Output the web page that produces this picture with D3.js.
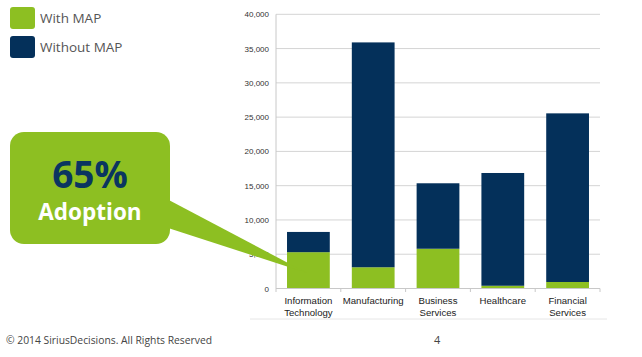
<!DOCTYPE html>
<html><head><meta charset="utf-8">
<script src="https://cdn.jsdelivr.net/npm/d3@7"></script>
<style>html,body{margin:0;padding:0;background:#fff;}svg{display:block;}</style>
</head><body>
<svg id="c" width="642" height="357"></svg>
<script>
const categories = [["Information","Technology"],["Manufacturing"],["Business","Services"],["Healthcare"],["Financial","Services"]];
const withMap = [5300, 3100, 5800, 400, 950];
const withoutMap = [2950, 32800, 9550, 16450, 24600];
const yTicks = [0,5000,10000,15000,20000,25000,30000,35000,40000];
const seriesNames = ["With MAP","Without MAP"];
const colors = ["#8dbf22","#04305a"];

const svg = d3.select("#c");
const m = {left:276, right:600, top:14.3, bottom:288.5};
const keys = categories.map(c=>c.join(" "));
const x = d3.scaleBand().domain(keys).range([m.left,m.right]).paddingInner(0.34).paddingOuter(0.17);
const y = d3.scaleLinear().domain([0,40000]).range([m.bottom,m.top]);

// gridlines
svg.append("g").selectAll("line").data(yTicks.slice(1)).join("line")
  .attr("x1",m.left).attr("x2",m.right).attr("y1",d=>y(d)).attr("y2",d=>y(d))
  .attr("stroke","#d4d4d4").attr("stroke-width",1);

// stacked bars
const rows = keys.map((k,i)=>({key:k, w:withMap[i], wo:withoutMap[i]}));
const stack = d3.stack().keys(["w","wo"])(rows);
svg.append("g").selectAll("g").data(stack).join("g").attr("fill",(d,i)=>colors[i])
  .selectAll("rect").data(d=>d).join("rect")
  .attr("x",d=>x(d.data.key)).attr("width",x.bandwidth())
  .attr("y",d=>y(d[1])).attr("height",d=>y(d[0])-y(d[1]));

// y axis
const ya = svg.append("g").attr("transform",`translate(${m.left},0)`)
  .call(d3.axisLeft(y).tickValues(yTicks).tickSize(0).tickPadding(7).tickFormat(d3.format(",")));
ya.select(".domain").attr("stroke","#c8c8c8").attr("d",`M0,${m.top}V${m.bottom+3.5}`);
ya.selectAll("text").attr("font-family","Liberation Sans, Arial, sans-serif").attr("font-size",8).attr("fill","#333");

// x axis
const xa = svg.append("g").attr("transform",`translate(0,${m.bottom})`);
xa.append("line").attr("x1",m.left).attr("x2",m.right).attr("stroke","#c8c8c8");
xa.selectAll(".tk").data(d3.range(1,keys.length+1)).join("line")
  .attr("x1",i=>m.left+i*(m.right-m.left)/keys.length).attr("x2",i=>m.left+i*(m.right-m.left)/keys.length)
  .attr("y1",0).attr("y2",3.5).attr("stroke","#c8c8c8");
xa.selectAll("text.cat").data(categories).join("text").attr("class","cat")
  .attr("font-family","Liberation Sans, Arial, sans-serif").attr("font-size",9.6).attr("fill","#222")
  .attr("text-anchor","middle")
  .each(function(d,i){
    const t=d3.select(this);
    d.forEach((line,j)=>t.append("tspan").attr("x",x(keys[i])+x.bandwidth()/2).attr("y",15.5+j*12).text(line));
  });

// faint separator under chart
svg.append("line").attr("x1",250).attr("x2",607).attr("y1",319).attr("y2",319).attr("stroke","#e6e6e6");

// legend
const lg = svg.append("g");
seriesNames.forEach((s,i)=>{
  lg.append("rect").attr("x",10).attr("y",7+i*29).attr("width",25).attr("height",22).attr("rx",3).attr("fill",colors[i]);
  lg.append("text").attr("x",40).attr("y",23+i*29).attr("font-family","Open Sans, sans-serif")
    .attr("font-size",13.5).attr("fill","#555").text(s);
});

// callout
const cg = svg.append("g");
cg.append("path").attr("d","M165,198 L307,273 L165,227 Z").attr("fill","#8dbf22");
cg.append("rect").attr("x",10).attr("y",132).attr("width",160).attr("height",112).attr("rx",14).attr("fill","#8dbf22");
cg.append("text").attr("x",90).attr("y",188).attr("text-anchor","middle").attr("font-family","Open Sans, sans-serif")
  .attr("font-weight","bold").attr("font-size",37).attr("fill","#0a3560").text("65%");
cg.append("text").attr("x",90).attr("y",220).attr("text-anchor","middle").attr("font-family","Open Sans, sans-serif")
  .attr("font-weight","bold").attr("font-size",22.5).attr("fill","#fff").text("Adoption");

// footer
svg.append("text").attr("x",6).attr("y",344).attr("font-family","Open Sans, sans-serif").attr("font-size",11)
  .attr("fill","#444").attr("textLength",206).attr("lengthAdjust","spacingAndGlyphs")
  .text("© 2014 SiriusDecisions. All Rights Reserved");
svg.append("text").attr("x",434).attr("y",344).attr("font-family","Open Sans, sans-serif").attr("font-size",11)
  .attr("fill","#444").text("4");
</script>
</body></html>
